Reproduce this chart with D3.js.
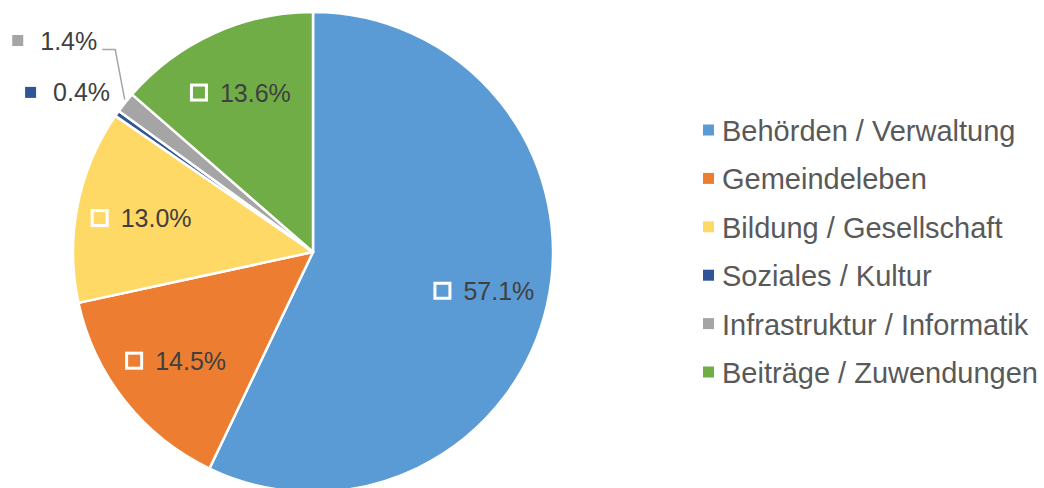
<!DOCTYPE html>
<html><head><meta charset="utf-8">
<script src="https://cdn.jsdelivr.net/npm/d3@7"></script>
<style>body{margin:0;background:#fff}svg{display:block}</style>
</head><body>
<svg id="c" width="1044" height="488"></svg>
<script>
const categories = ["Behörden / Verwaltung","Gemeindeleben","Bildung / Gesellschaft","Soziales / Kultur","Infrastruktur / Informatik","Beiträge / Zuwendungen"];
const values = [57.1, 14.5, 13.0, 0.4, 1.4, 13.6];
const colors = ["#5B9BD5","#ED7D31","#FFD966","#2F5597","#A5A5A5","#70AD47"];
const labels = ["57.1%","14.5%","13.0%","0.4%","1.4%","13.6%"];

const svg = d3.select("#c");
const cx = 313, cy = 252, R = 240;
const g = svg.append("g").attr("transform", `translate(${cx},${cy})`);
const pie = d3.pie().sort(null).value(d => d)(values);
const arc = d3.arc().innerRadius(0).outerRadius(R);
g.selectAll("path.s").data(pie).join("path").attr("class","s")
  .attr("d", arc).attr("fill", (d,i) => colors[i])
  .attr("stroke", "#fff").attr("stroke-width", 2.5).attr("stroke-linejoin","round");

const lblFont = "'Liberation Sans', Arial, sans-serif";
const inArc = d3.arc().innerRadius(R*0.73).outerRadius(R*0.73);
const fs = 25;
pie.forEach((d,i) => {
  const mid = (d.startAngle + d.endAngle)/2;
  const small = values[i] < 5;
  if (!small) {
    const [x,y] = inArc.centroid(d);
    const grp = g.append("g").attr("transform", `translate(${x},${y})`);
    const t = grp.append("text").attr("font-family", lblFont).attr("font-size", fs)
      .attr("fill", "#404040").attr("dominant-baseline","central").text(labels[i]);
    const tw = t.node().getComputedTextLength();
    const total = 18 + 12 + tw;
    grp.append("rect").attr("x", -total/2 + 1.5).attr("y", -7.5).attr("width", 15).attr("height", 15)
      .attr("fill", "none").attr("stroke", "#fff").attr("stroke-width", 3);
    t.attr("x", -total/2 + 30);
  } else {
    const ex = Math.sin(mid) * R, ey = -Math.cos(mid) * R;
    const grp = g.append("g");
    let tx, ty;
    if (values[i] < 1) { tx = ex - 7; ty = ey - 21; }
    else {
      tx = ex - 28; ty = ey - 62;
      grp.append("path").attr("d", `M${ex-0.5},${ey-3} L${ex-10},${ey-53} L${ex-23},${ey-53}`)
        .attr("fill","none").attr("stroke","#A5A5A5").attr("stroke-width",1.5);
    }
    const t = grp.append("text").attr("font-family", lblFont).attr("font-size", fs)
      .attr("fill", "#404040").attr("dominant-baseline","central")
      .attr("text-anchor","end").attr("x", tx).attr("y", ty).text(labels[i]);
    const tw = t.node().getComputedTextLength();
    grp.append("rect").attr("x", tx - tw - 28).attr("y", ty - 5.5).attr("width", 11).attr("height", 11)
      .attr("fill", colors[i]);
  }
});

const leg = svg.append("g").attr("transform","translate(703,130)");
categories.forEach((c,i) => {
  const row = leg.append("g").attr("transform", `translate(0,${i*48.4})`);
  row.append("rect").attr("x",0).attr("y",-5.5).attr("width",11).attr("height",11).attr("fill",colors[i]);
  row.append("text").attr("x",19).attr("y",1).attr("dominant-baseline","central")
    .attr("font-family","'Liberation Sans', Arial, sans-serif").attr("font-size",29)
    .attr("fill","#595959").text(c);
});
</script>
</body></html>
